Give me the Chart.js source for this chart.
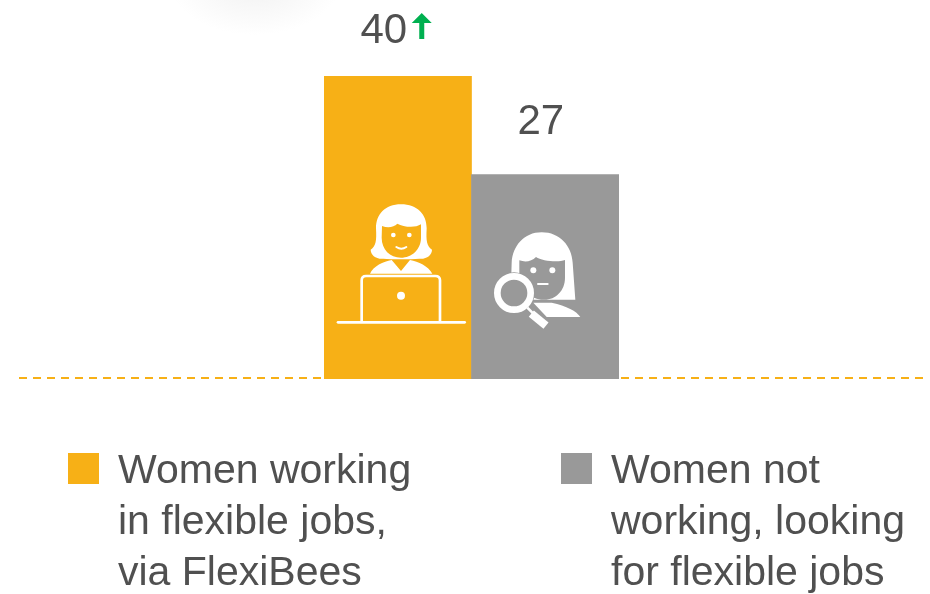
<!DOCTYPE html>
<html>
<head>
<meta charset="utf-8">
<script src="https://cdn.jsdelivr.net/npm/chart.js@4/dist/chart.umd.min.js"></script>
<style>
  html, body { margin: 0; padding: 0; background: #fff; }
  #wrap { position: relative; width: 930px; height: 594px; overflow: hidden; font-family: "Liberation Sans", Arial, sans-serif; color: #505050; }
  #blob { position: absolute; left: 170px; top: -70px; width: 170px; height: 105px; background: radial-gradient(closest-side, #f1f1f1, #fff); }
  canvas { position: absolute; left: 0; top: 0; }
  .swatch { position: absolute; top: 453px; width: 31px; height: 31px; }
  .legendText { position: absolute; top: 444px; font-size: 41px; line-height: 51px; white-space: pre; }
</style>
</head>
<body>
<div id="wrap">
  <div id="blob"></div>
  <canvas id="chart" width="930" height="594"></canvas>
</div>
<script>
const categories = ['Women working in flexible jobs, via FlexiBees', 'Women not working, looking for flexible jobs'];
const values = [40, 27];
const barColors = ['#F7B016', '#999999'];
const legendLines = [
    ['Women working', 'in flexible jobs,', 'via FlexiBees'],
    ['Women not', 'working, looking', 'for flexible jobs']
];
const legendX = [68, 561];
const textColor = '#505050';

// legend sits under the chart, built from the arrays above
const wrap = document.getElementById('wrap');
legendLines.forEach((lines, i) => {
    const swatch = document.createElement('div');
    swatch.className = 'swatch';
    swatch.style.left = legendX[i] + 'px';
    swatch.style.background = barColors[i];
    wrap.appendChild(swatch);

    const text = document.createElement('div');
    text.className = 'legendText';
    text.style.left = (legendX[i] + 50) + 'px';
    text.textContent = lines.join('\n');
    wrap.appendChild(text);
});

// icons are in a 3x grid, origin is 4px left of the first bar and 188px above the baseline
function drawWorkerIcon(ctx, bg) {
    ctx.fillStyle = '#fff';
    ctx.fill(new Path2D('M243 40 C292 40 320 70 320 112 C318 150 320 165 336 176 C336 192 320 205 298 203 C270 205 215 205 190 203 C168 205 152 192 152 176 C168 165 170 150 168 112 C168 70 195 40 243 40 Z'));
    ctx.fillStyle = bg;
    ctx.fill(new Path2D('M186 105 C205 112 222 108 232 98 C250 108 285 112 303 100 L303 140 C303 175 275 200 243 200 C210 200 185 175 185 140 Z'));
    ctx.fillStyle = '#fff';
    [[220, 132, 7], [268, 132, 7], [243, 314, 12]].forEach(c => {
        ctx.beginPath();
        ctx.arc(c[0], c[1], c[2], 0, Math.PI * 2);
        ctx.fill();
    });
    ctx.fill(new Path2D('M150 248 C160 225 190 212 215 207 L243 240 L270 207 C295 212 325 225 337 248 Z'));
    ctx.strokeStyle = '#fff';
    ctx.lineWidth = 6;
    ctx.lineCap = 'round';
    ctx.stroke(new Path2D('M229 168 Q244 178 259 168'));
    ctx.lineWidth = 8;
    ctx.stroke(new Path2D('M125 392 L125 268 Q125 255 138 255 L346 255 Q360 255 360 268 L360 392'));
    ctx.stroke(new Path2D('M54 394 L434 394'));
}

function drawSearchIcon(ctx, bg) {
    ctx.fillStyle = '#fff';
    ctx.fill(new Path2D('M665 124 C720 124 755 165 758 215 L766 326 L620 326 L574 250 L575 215 C578 165 612 124 665 124 Z'));
    ctx.fill(new Path2D('M695 335 C740 345 770 360 781 378 L680 378 L640 335 Z'));
    ctx.fillStyle = bg;
    ctx.fill(new Path2D('M598 208 C615 214 635 212 648 198 C665 210 715 215 735 207 L735 260 C735 300 705 328 670 326 C635 326 600 295 598 260 Z'));
    ctx.fillStyle = '#fff';
    [[640, 238, 9], [697, 238, 9]].forEach(c => {
        ctx.beginPath();
        ctx.arc(c[0], c[1], c[2], 0, Math.PI * 2);
        ctx.fill();
    });
    ctx.strokeStyle = '#fff';
    ctx.lineCap = 'round';
    ctx.lineWidth = 6;
    ctx.stroke(new Path2D('M654 279 L683 279'));
    // magnifier
    ctx.beginPath();
    ctx.arc(582, 306, 62, 0, Math.PI * 2);
    ctx.fillStyle = bg;
    ctx.fill();
    ctx.beginPath();
    ctx.arc(582, 306, 50, 0, Math.PI * 2);
    ctx.lineWidth = 20;
    ctx.stroke();
    ctx.lineCap = 'butt';
    ctx.lineWidth = 8;
    ctx.stroke(new Path2D('M622 350 L640 368'));
    ctx.lineWidth = 24;
    ctx.stroke(new Path2D('M634 368 L678 404'));
}

const barExtras = {
    id: 'barExtras',
    beforeDatasetsDraw(chart) {
        // dashed baseline runs past the plot on both sides
        const ctx = chart.ctx;
        const y = chart.scales.y.getPixelForValue(0);
        ctx.save();
        ctx.strokeStyle = '#F7B016';
        ctx.lineWidth = 2;
        ctx.setLineDash([8, 6]);
        ctx.beginPath();
        ctx.moveTo(19, y - 1);
        ctx.lineTo(923, y - 1);
        ctx.stroke();
        ctx.restore();
    },
    afterDatasetsDraw(chart) {
        const ctx = chart.ctx;
        const bars = chart.getDatasetMeta(0).data;

        ctx.save();
        ctx.font = '42px "Liberation Sans", Arial, sans-serif';
        ctx.fillStyle = textColor;
        ctx.textAlign = 'center';
        ctx.textBaseline = 'alphabetic';
        bars.forEach((bar, i) => {
            ctx.fillText(String(values[i]), bar.x - 14 + i * 9.5, bar.y - 33 - i * 7);
        });

        // green up arrow next to the first value
        const ax = bars[0].x + 24;
        const ay = bars[0].y;
        ctx.fillStyle = '#00B050';
        ctx.beginPath();
        ctx.moveTo(ax, ay - 63);
        ctx.lineTo(ax + 10, ay - 53);
        ctx.lineTo(ax + 2.5, ay - 53);
        ctx.lineTo(ax + 2.5, ay - 37);
        ctx.lineTo(ax - 2.5, ay - 37);
        ctx.lineTo(ax - 2.5, ay - 53);
        ctx.lineTo(ax - 10, ay - 53);
        ctx.closePath();
        ctx.fill();
        ctx.restore();

        const base = chart.scales.y.getPixelForValue(0);
        ctx.save();
        ctx.translate(bars[0].x - bars[0].width / 2 - 4, base - 188);
        ctx.scale(1 / 3, 1 / 3);
        drawWorkerIcon(ctx, barColors[0]);
        drawSearchIcon(ctx, barColors[1]);
        ctx.restore();
    }
};

new Chart(document.getElementById('chart'), {
    type: 'bar',
    data: {
        labels: categories,
        datasets: [{
            data: values,
            backgroundColor: barColors,
            borderWidth: 0,
            barPercentage: 1.0,
            categoryPercentage: 1.0
        }]
    },
    options: {
        responsive: false,
        animation: false,
        layout: { padding: { left: 324, right: 311, top: 76, bottom: 215 } },
        plugins: { legend: { display: false }, tooltip: { enabled: false } },
        scales: {
            x: { display: false },
            y: { display: false, min: 0, max: 40 }
        }
    },
    plugins: [barExtras]
});
</script>
</body>
</html>
